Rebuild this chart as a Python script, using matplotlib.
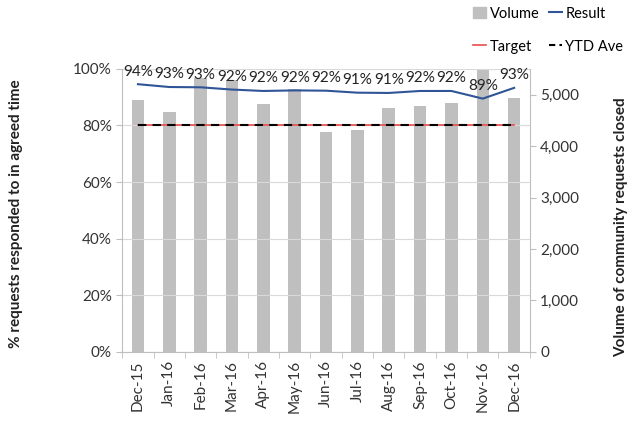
import numpy as np
import matplotlib.pyplot as plt
from matplotlib.patches import Patch
from matplotlib.lines import Line2D

plt.rcParams['font.family'] = ['Lato', 'DejaVu Sans']

months = ["Dec-15", "Jan-16", "Feb-16", "Mar-16", "Apr-16", "May-16", "Jun-16",
          "Jul-16", "Aug-16", "Sep-16", "Oct-16", "Nov-16", "Dec-16"]
volume = [4890, 4670, 5320, 5280, 4810, 5110, 4270, 4310, 4740, 4780, 4830, 5550, 4930]
result = [94.6, 93.6, 93.5, 92.7, 92.2, 92.4, 92.3, 91.6, 91.5, 92.2, 92.2, 89.5, 93.3]
result_labels = ["94%", "93%", "93%", "92%", "92%", "92%", "92%", "91%", "91%", "92%", "92%", "89%", "93%"]
target = [80] * 13
ytd_ave = [80] * 13

grey = "#bfbfbf"
blue = "#2f5597"

fig = plt.figure(figsize=(6.27, 4.28), dpi=100)
ax = fig.add_axes([0.195, 0.178, 0.650, 0.661])
ax2 = ax.twinx()

x = np.arange(len(months))

# bars on the right (volume) axis, drawn behind the lines
ax2.bar(x, volume, width=0.4, color=grey, zorder=1)
ax2.set_ylim(0, 5500)
ax2.set_yticks([0, 1000, 2000, 3000, 4000, 5000])
ax2.set_yticklabels(["0", "1,000", "2,000", "3,000", "4,000", "5,000"])

# put the percentage axis on top so lines sit above the bars
ax.set_zorder(ax2.get_zorder() + 1)
ax.patch.set_visible(False)

ax.plot(x, target, color="#e84c4c", lw=1.2, zorder=3)
ax.plot(x, ytd_ave, color="black", lw=1.5, ls=(0, (4, 3)), zorder=4)
ax.plot(x, result, color=blue, lw=1.5, zorder=5)
for xi, v, lab in zip(x, result, result_labels):
    ax.annotate(lab, (xi, v), xytext=(0, 4), textcoords="offset points",
                ha="center", va="bottom", fontsize=11, color="#222222")

ax.set_ylim(0, 100)
ax.set_xlim(-0.5, len(months) - 0.5)
ax.set_yticks([0, 20, 40, 60, 80, 100])
ax.set_yticklabels(["0%", "20%", "40%", "60%", "80%", "100%"])
ax.yaxis.grid(True, color="#d9d9d9", lw=0.8)
ax.set_axisbelow(True)
ax2.grid(False)

ax.set_xticks(x)
ax.set_xticklabels(months, rotation=90)
ax.set_xticks(np.arange(-0.5, len(months)), minor=True)
ax.tick_params(axis="x", which="major", length=0, labelsize=11, pad=6, colors="#333333")
ax.tick_params(axis="x", which="minor", length=4, color="#bfbfbf")
ax.tick_params(axis="y", length=4, color="#bfbfbf", labelsize=11, colors="#333333")
ax2.tick_params(axis="y", length=4, color="#bfbfbf", labelsize=11, colors="#333333")

for a in (ax, ax2):
    for s in a.spines.values():
        s.set_visible(False)
ax.spines["left"].set_visible(True)
ax.spines["bottom"].set_visible(True)
ax2.spines["right"].set_visible(True)
ax.spines["left"].set_color("#bfbfbf")
ax.spines["bottom"].set_color("#bfbfbf")
ax2.spines["right"].set_color("#bfbfbf")

fig.text(0.025, 0.5, "% requests responded to in agreed time", rotation=90,
         ha="center", va="center", fontsize=11, fontweight="bold", color="#222222")
fig.text(0.99, 0.47, "Volume of community requests closed", rotation=90,
         ha="center", va="center", fontsize=11, fontweight="bold", color="#222222")

handles = [Patch(color=grey),
           Line2D([], [], color="#e84c4c", lw=1.2),
           Line2D([], [], color=blue, lw=1.5),
           Line2D([], [], color="black", lw=1.5, ls=(0, (3, 2)))]
labels = ["Volume", "Target", "Result", "YTD Ave"]
fig.legend(handles, labels, ncol=2, loc="upper right", bbox_to_anchor=(1.015, 1.015),
           frameon=False, fontsize=10.5, handlelength=0.9, handleheight=0.8,
           handletextpad=0.25, columnspacing=0.6, labelspacing=1.3)

fig.savefig("out.png", dpi=100)
